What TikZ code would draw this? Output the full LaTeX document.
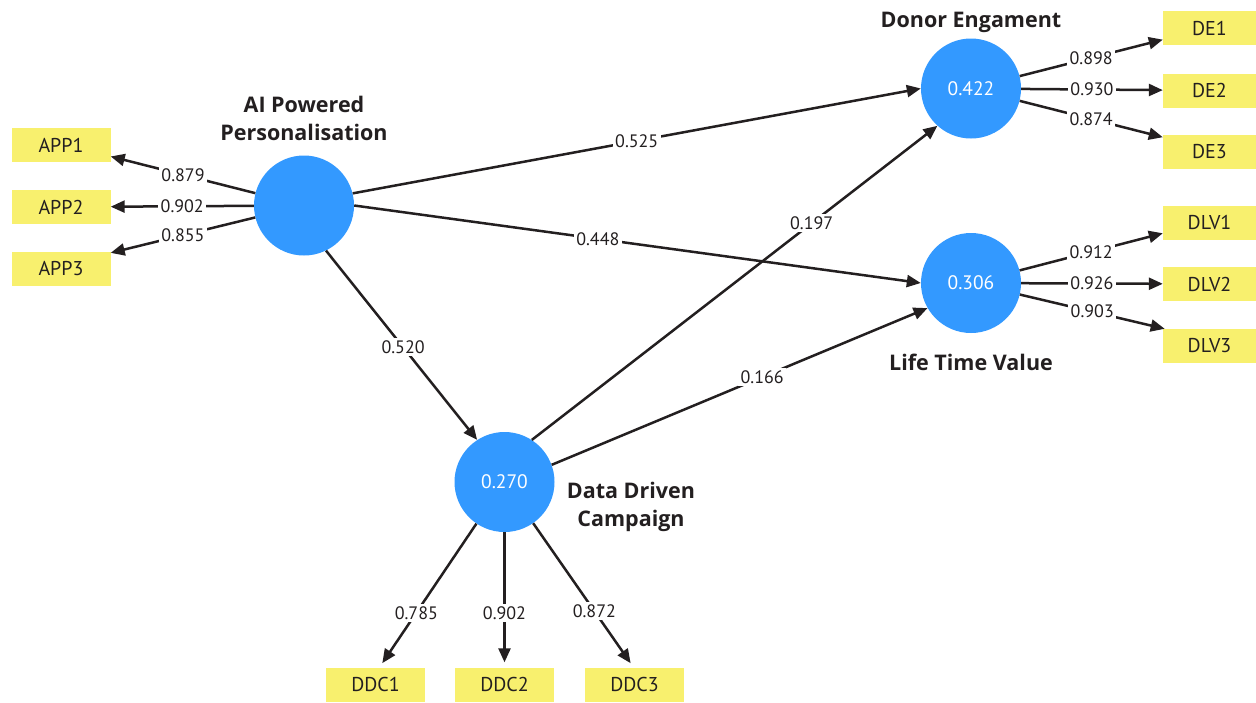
\documentclass[tikz,border=0pt]{standalone}
\usepackage{fontspec}
\setmainfont{PT Sans}
\newfontfamily\titlefont{Open Sans}
\usetikzlibrary{arrows.meta}
\definecolor{lvblue}{HTML}{3399FF}
\definecolor{indyellow}{HTML}{F8F06E}
\definecolor{ink}{HTML}{231F20}
\begin{document}
\begin{tikzpicture}[x=1pt,y=1pt,
  latent/.style={circle, fill=lvblue, minimum size=100pt, inner sep=0pt, text=white, font=\fontsize{19.5}{19.5}\selectfont},
  indic/.style={rectangle, fill=indyellow, minimum width=99pt, minimum height=34pt, inner sep=0pt, text=ink, font=\fontsize{20}{20}\selectfont},
  indicr/.style={indic, minimum width=93pt},
  title/.style={text=ink, font=\titlefont\bfseries\fontsize{21.5}{28}\selectfont, align=center},
  link/.style={draw=ink, line width=2.5pt, -{Triangle[length=14pt,width=12pt]}},
  wt/.style={fill=white, text=ink, inner sep=2.5pt, font=\fontsize{18}{18}\selectfont}
]
\fill[white] (0,0) rectangle (1256,-702);
\useasboundingbox (0,0) rectangle (1256,-702);

% latent variables
\node[latent] (APP) at (304,-205.5) {};
\node[latent] (DE) at (971,-88.5) {0.422};
\node[latent] (DLV) at (971,-283) {0.306};
\node[latent] (DDC) at (504.5,-482) {0.270};

% indicators
\node[indic] (APP1) at (61,-145) {APP1};
\node[indic] (APP2) at (61,-207) {APP2};
\node[indic] (APP3) at (61,-269) {APP3};
\node[indicr] (DE1) at (1209.5,-28) {DE1};
\node[indicr] (DE2) at (1209.5,-90.5) {DE2};
\node[indicr] (DE3) at (1209.5,-151.5) {DE3};
\node[indicr] (DLV1) at (1209.5,-222.5) {DLV1};
\node[indicr] (DLV2) at (1209.5,-284) {DLV2};
\node[indicr] (DLV3) at (1209.5,-346) {DLV3};
\node[indic] (DDC1) at (375.5,-684.5) {DDC1};
\node[indic] (DDC2) at (504.5,-684.5) {DDC2};
\node[indic] (DDC3) at (634.5,-684.5) {DDC3};

% titles
\node[title] (tAPP) at (304,-118) {AI Powered\\Personalisation};
\node[title] (tDE) at (971,-22) {Donor Engament};
\node[title] (tDLV) at (971,-362) {Life Time Value};
\node[title] (tDDC) at (631,-507) {Data Driven\\Campaign};

% outer loadings
\draw[link] (APP) -- node[wt]{0.879} (APP1.-13.5);
\draw[link] (APP) -- node[wt]{0.902} (APP2);
\draw[link] (APP) -- node[wt]{0.855} (APP3.18);
\draw[link] (DE) -- node[wt]{0.898} (DE1.194);
\draw[link] (DE) -- node[wt]{0.930} (DE2);
\draw[link] (DE) -- node[wt]{0.874} (DE3.163);
\draw[link] (DLV) -- node[wt]{0.912} (DLV1.193);
\draw[link] (DLV) -- node[wt]{0.926} (DLV2);
\draw[link] (DLV) -- node[wt]{0.903} (DLV3.159);
\draw[link, shorten >=5pt] (DDC) -- node[wt, pos=0.62]{0.785} ([xshift=4pt]DDC1.north);
\draw[link, shorten >=5pt] (DDC) -- node[wt, pos=0.6]{0.902} (DDC2.north);
\draw[link, shorten >=5pt] (DDC) -- node[wt, pos=0.61]{0.872} ([xshift=-1pt]DDC3.north);

% structural paths
\draw[link] (APP.14) -- node[wt, pos=0.5]{0.525} (DE.west);
\draw[link] (APP.east) -- node[wt, pos=0.43]{0.448} (DLV.west);
\draw[link] (APP.-64) -- node[wt, pos=0.51]{0.520} (DDC.123);
\draw[link] (DDC.57) -- node[wt, pos=0.69]{0.197} (DE.228);
\draw[link] (DDC.20) -- node[wt, pos=0.56]{0.166} (DLV.210);
\end{tikzpicture}
\end{document}
